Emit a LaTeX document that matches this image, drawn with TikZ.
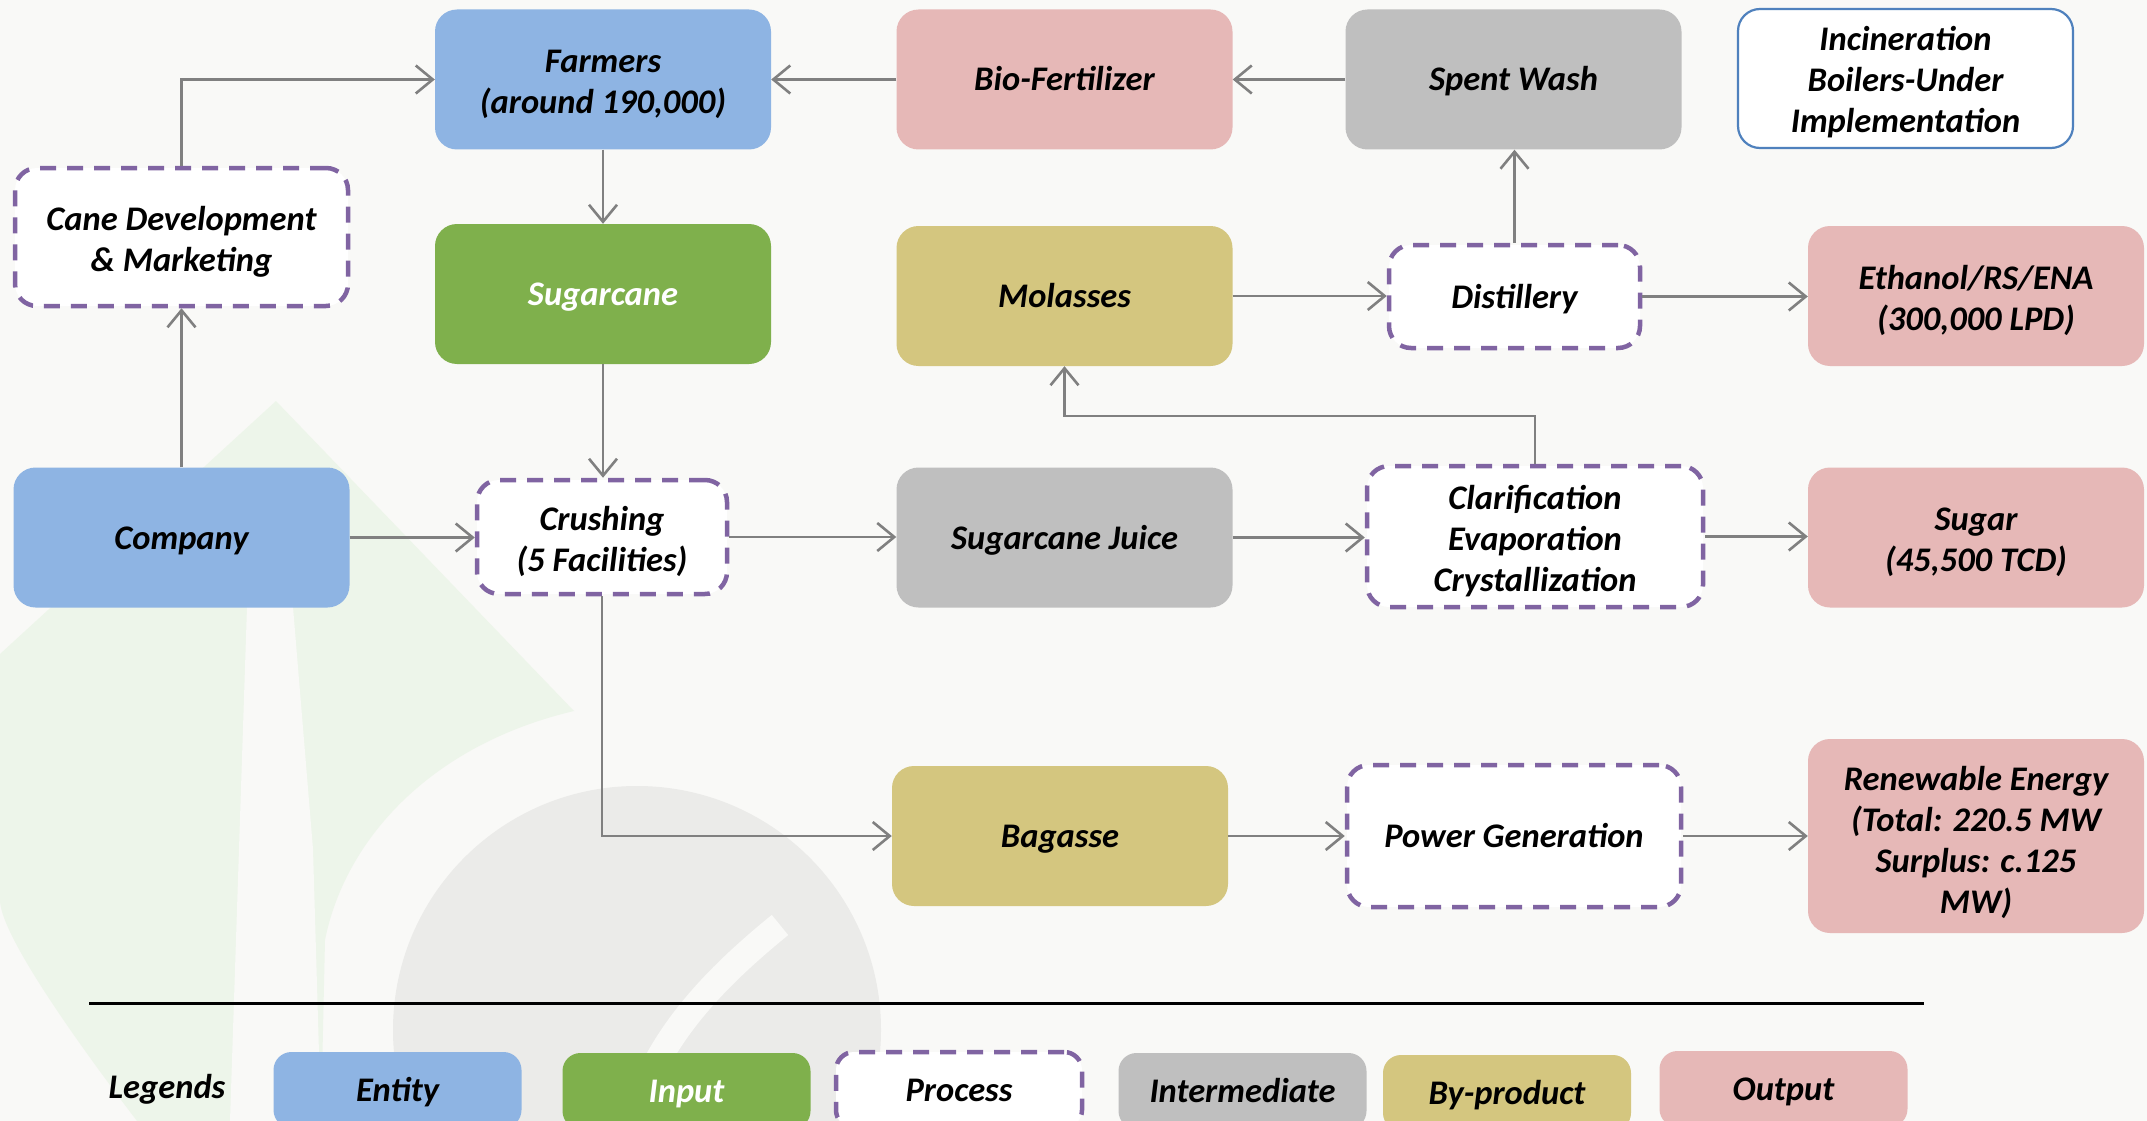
\documentclass[tikz,border=0pt]{standalone}
\usepackage{fontspec}
\setmainfont{Carlito}
\usetikzlibrary{arrows.meta}
\definecolor{entityC}{HTML}{8EB4E3}
\definecolor{inputC}{HTML}{7FB04C}
\definecolor{interC}{HTML}{BFBFBF}
\definecolor{byC}{HTML}{D4C67F}
\definecolor{outC}{HTML}{E6B8B7}
\definecolor{procC}{HTML}{8064A2}
\definecolor{incC}{HTML}{4F81BD}
\definecolor{arrC}{HTML}{808080}
\definecolor{bgC}{HTML}{F9F9F7}
\definecolor{wmG}{HTML}{EDF5EA}
\definecolor{wmY}{HTML}{EBEBE9}
\newcommand{\boxfont}{\fontsize{34.5}{41}\selectfont\bfseries\itshape}
\newcommand{\topA}{\rule{0pt}{35pt}}
\newcommand{\topB}{\rule{0pt}{39pt}}
\begin{document}
\begin{tikzpicture}[x=1pt,y=-1pt,
 txt/.style={font=\boxfont, execute at begin node={\rule{0pt}{31pt}}, execute at end node={\rule[-8pt]{0pt}{0pt}}},
 box/.style={txt, rounded corners=22pt, minimum width=336pt, minimum height=140pt, align=center, inner sep=4pt},
 ent/.style={box, fill=entityC},
 inp/.style={box, fill=inputC, text=white},
 inter/.style={box, fill=interC},
 byp/.style={box, fill=byC},
 outp/.style={box, fill=outC},
 proc/.style={box, fill=white, draw=procC, line width=4.5pt, dash pattern=on 16pt off 11pt},
 leg/.style={txt, rounded corners=18pt, minimum width=248pt, minimum height=76pt, align=center, inner sep=2pt},
 arr/.style={draw=arrC, line width=2.6pt, -{Straight Barb[length=17pt,width=28pt]}},
]
\useasboundingbox (0,0) rectangle (2147,1121);
\clip (0,0) rectangle (2147,1121);
\fill[bgC] (0,0) rectangle (2147,1121);
% watermark
\fill[wmG] (276,401) -- (574,711) .. controls (430,745) and (345,840) .. (325,940) -- (321,1121) -- (137,1121) .. controls (60,1020) and (0,930) .. (0,900) -- (0,654) -- cycle;
\fill[bgC] (247,607) -- (293,607) -- (313,849) -- (321,1121) -- (230,1121) -- cycle;
\fill[wmY] (637,1030) circle (244);
\draw[bgC, line width=26pt] (780,925) .. controls (700,990) and (650,1050) .. (628,1135);

% nodes
\node[ent] (farm) at (603,79.5) {\topA Farmers\\(around 190,000)};
\node[outp] (bio) at (1064.5,79.5) {Bio-Fertilizer};
\node[inter] (spent) at (1513.5,79.5) {Spent Wash};
\node[box, fill=white, draw=incC, line width=2.2pt, minimum width=335pt, minimum height=139pt] (inc) at (1905.5,78.5) {\topA Incineration\\Boilers-Under\\Implementation};
\node[proc, minimum width=333pt, minimum height=138pt] (cane) at (181.5,237) {\topA Cane Development\\\& Marketing};
\node[inp] (sugc) at (603,294) {Sugarcane};
\node[byp] (mol) at (1064.5,296) {Molasses};
\node[proc, minimum width=251pt, minimum height=103pt] (dist) at (1514.5,296.5) {Distillery};
\node[outp] (eth) at (1976,296) {\topA Ethanol/RS/ENA\\(300,000 LPD)};
\node[ent] (comp) at (181.5,537.5) {Company};
\node[proc, minimum width=250pt, minimum height=114pt] (crush) at (602,537) {\topA Crushing\\(5 Facilities)};
\node[inter] (juice) at (1064.5,537.5) {Sugarcane Juice};
\node[proc, minimum width=336pt, minimum height=141pt] (clar) at (1535,536.5) {\topA Clarification\\Evaporation\\Crystallization};
\node[outp] (sugar) at (1976,537.5) {\topA Sugar\\(45,500 TCD)};
\node[byp] (bag) at (1060,836) {Bagasse};
\node[proc, minimum width=334pt, minimum height=142pt] (pow) at (1514,836) {Power Generation};
\node[outp, minimum height=194pt] (ren) at (1976,836) {\topB Renewable Energy\\(Total: 220.5 MW\\Surplus: c.125\\MW)};

% connectors
\draw[arr] (comp.north) -- (cane.south);
\draw[arr] (cane.north) |- (farm.west);
\draw[arr] (bio.west) -- (farm.east);
\draw[arr] (spent.west) -- (bio.east);
\draw[arr] (farm.south) -- (sugc.north);
\draw[arr] (sugc.south) -- (sugc.south |- crush.north);
\draw[arr] (comp.east) -- (comp.east -| crush.west);
\draw[arr] (crush.east) -- (crush.east -| juice.west);
\draw[arr] (juice.east) -- (juice.east -| clar.west);
\draw[arr] (clar.east) -- (clar.east -| sugar.west);
\coordinate (turn) at (0,416);
\draw[arr] (clar.north) -- (clar.north |- turn) -| (mol.south);
\draw[arr] (mol.east) -- (mol.east -| dist.west);
\draw[arr] (dist.east) -- (dist.east -| eth.west);
\draw[arr] (dist.north) -- (dist.north |- spent.south);
\draw[arr] (crush.south) |- (bag.west);
\draw[arr] (bag.east) -- (bag.east -| pow.west);
\draw[arr] (pow.east) -- (pow.east -| ren.west);

% legend
\coordinate (lineL) at (89,1003);
\coordinate (lineR) at (1924,1003);
\draw[line width=3pt] (lineL) -- (lineR);
\node[txt] (legt) at (167,1087) {Legends};
\node[leg, fill=entityC] (lent) at (397.5,1090) {Entity};
\node[leg, fill=inputC, text=white] (linp) at (686.5,1091) {Input};
\node[leg, fill=white, draw=procC, line width=4.5pt, dash pattern=on 16pt off 11pt, minimum width=246pt] (lproc) at (959,1090) {Process};
\node[leg, fill=interC] (linter) at (1242.5,1091) {Intermediate};
\node[leg, fill=byC] (lbyp) at (1507,1093) {By-product};
\node[leg, fill=outC] (lout) at (1783.5,1089) {Output};
\end{tikzpicture}
\end{document}
